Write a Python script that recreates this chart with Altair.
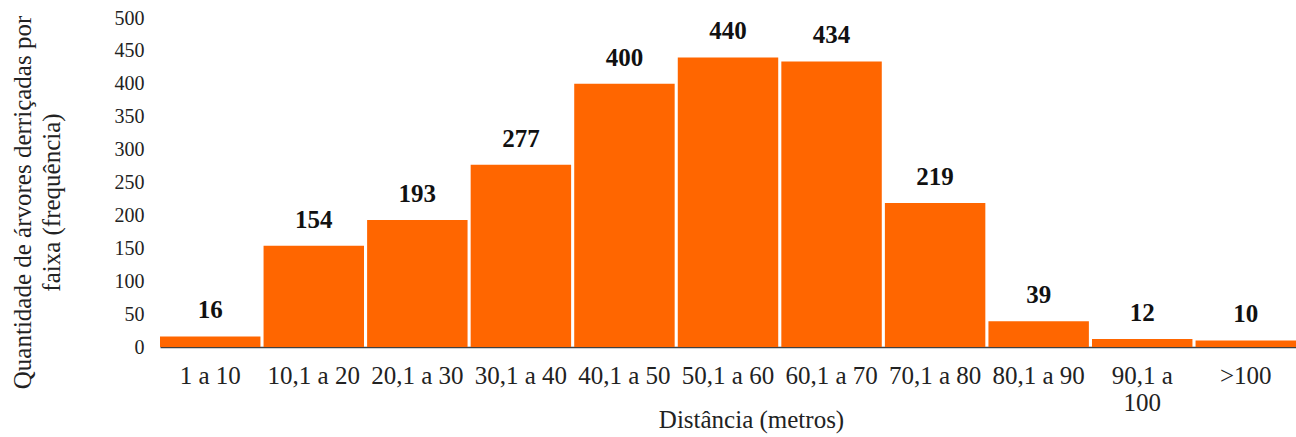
import altair as alt
import pandas as pd

categories = ["1 a 10", "10,1 a 20", "20,1 a 30", "30,1 a 40", "40,1 a 50",
              "50,1 a 60", "60,1 a 70", "70,1 a 80", "80,1 a 90", "90,1 a 100", ">100"]
counts = [16, 154, 193, 277, 400, 440, 434, 219, 39, 12, 10]
y_ticks = [0, 50, 100, 150, 200, 250, 300, 350, 400, 450, 500]

df = pd.DataFrame({"faixa": categories, "freq": counts})

FONT = "Liberation Serif"

x_enc = alt.X(
    "faixa:N",
    sort=categories,
    scale=alt.Scale(paddingInner=0.03, paddingOuter=0.0),
    axis=alt.Axis(
        title="Distância (metros)",
        labelAngle=0,
        ticks=False,
        domainColor="#404040",
        domainWidth=1.5,
        labelFont=FONT,
        labelFontSize=25,
        labelColor="#222222",
        labelPadding=16,
        labelLineHeight=27,
        labelOverlap=False,
        labelExpr="datum.label == '90,1 a 100' ? ['90,1 a', '100'] : datum.label",
        titleFont=FONT,
        titleFontSize=25,
        titleFontWeight="normal",
        titleColor="#222222",
        titleX=591,
        titleY=60,
    ),
)

y_enc = alt.Y(
    "freq:Q",
    scale=alt.Scale(domain=[0, 500], nice=False),
    axis=alt.Axis(
        values=y_ticks,
        title=["Quantidade de árvores derriçadas por", "faixa (frequência)"],
        grid=False,
        domain=False,
        ticks=False,
        labelOverlap=False,
        labelFont=FONT,
        labelFontSize=20,
        labelColor="#222222",
        labelPadding=16,
        titleFont=FONT,
        titleFontSize=25,
        titleFontWeight="normal",
        titleColor="#222222",
        titleLineHeight=29,
        titleX=-125,
        titleY=184,
    ),
)

base = alt.Chart(df).encode(x=x_enc, y=y_enc)

bars = base.mark_bar(color="#FF6600")

labels = base.mark_text(
    font=FONT, fontSize=25, fontWeight="bold", color="#111111",
    baseline="alphabetic", dy=-18,
).encode(text="freq:Q")

chart = (bars + labels).properties(
    width=1136,
    height=329,
    autosize=alt.AutoSizeParams(type="none"),
    padding={"left": 160, "top": 18, "right": 0, "bottom": 90},
).configure(background="white").configure_view(stroke=None)

chart.save("out.html", embed_options={"renderer": "svg", "actions": False})
